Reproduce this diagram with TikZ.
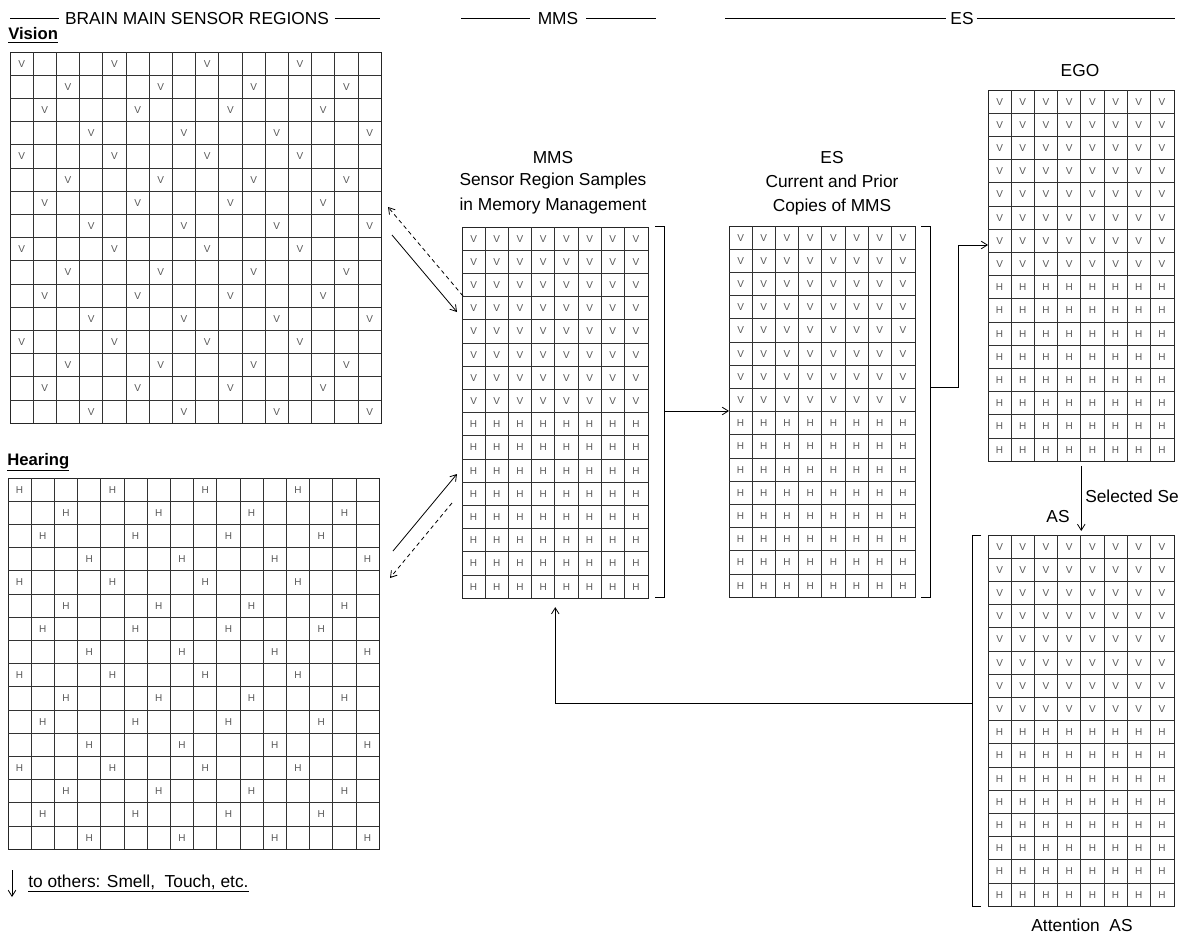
\documentclass[tikz,border=0pt]{standalone}
\usepackage{fontspec}
\setmainfont{Liberation Sans}
\usetikzlibrary{arrows.meta}

\begin{document}
\begin{tikzpicture}[
    x=0.75pt,
    y=-0.75pt,
    >={Straight Barb[length=1.6mm,width=2mm]},
    titletext/.style={font=\fontsize{13}{15}\selectfont, inner sep=0pt},
    heading/.style={font=\fontsize{12.5}{15}\selectfont\bfseries, inner sep=0pt},
    cell/.style={font=\fontsize{7.5}{9}\selectfont, text=black!65, inner sep=0pt},
    gridframe/.style={draw=black!85, line width=0.7pt, inner sep=0pt, anchor=north west},
    gridline/.style={draw=black!80, line width=0.7pt},
    rule/.style={line width=0.7pt},
    line/.style={->, line width=0.6pt},
    dashline/.style={->, line width=0.6pt, dash pattern=on 3pt off 2.5pt}
]
\useasboundingbox (0,0) rectangle (1190,935);

% headers
\node[titletext, anchor=base] (hdbrain) at (197,24) {BRAIN MAIN SENSOR REGIONS};
\node[titletext, anchor=base] (hdmms) at (558,24) {MMS};
\node[titletext, anchor=base] (hdes) at (962,24) {ES};
\draw[rule] (10,0 |- hdbrain.west) -- ([xshift=-4pt]hdbrain.west);
\draw[rule] ([xshift=4pt]hdbrain.east) -- (380,0 |- hdbrain.east);
\draw[rule] (461,0 |- hdmms.west) -- ([xshift=-6pt]hdmms.west);
\draw[rule] ([xshift=6pt]hdmms.east) -- (656,0 |- hdmms.east);
\draw[rule] (725,0 |- hdes.west) -- ([xshift=-3pt]hdes.west);
\draw[rule] ([xshift=2pt]hdes.east) -- (1175,0 |- hdes.east);

\node[heading, anchor=base west] (lbvision) at (8,40) {\underline{Vision}};
\node[heading, anchor=base west] (lbhearing) at (7,465) {\underline{Hearing}};

% sensor regions
\foreach \g/\gx/\gy/\ch in {vision/10/52/V, hearing/8/478/H} {
  \node[gridframe, minimum width=278.4pt, minimum height=278.4pt] (\g) at (\gx,\gy) {};
  \foreach \i in {1,...,15} {
    \draw[gridline] ({\gx+\i*23.2},\gy) -- ++(0,371.2);
    \draw[gridline] (\gx,{\gy+\i*23.2}) -- ++(371.2,0);
  }
  \foreach \r in {0,...,15} {
    \pgfmathtruncatemacro\off{mod(2*\r,4)+floor(mod(\r,4)/2)}
    \foreach \k in {0,...,3} {
      \pgfmathtruncatemacro\c{\off+4*\k}
      \node[cell] (\g-\r-\c) at ({\gx+(\c+0.5)*23.2},{\gy+(\r+0.5)*23.2}) {\ch};
    }
  }
}

% memory copies
\foreach \g/\gx/\gy in {mms/462/227, es/729/226, ego/988/90, as/988/535} {
  \node[gridframe, minimum width=139.2pt, minimum height=278.4pt] (\g) at (\gx,\gy) {};
  \foreach \i in {1,...,7}
    \draw[gridline] ({\gx+\i*23.2},\gy) -- ++(0,371.2);
  \foreach \i in {1,...,15}
    \draw[gridline] (\gx,{\gy+\i*23.2}) -- ++(185.6,0);
  \foreach \c in {0,...,7} {
    \foreach \r in {0,...,7}
      \node[cell] (\g-\r-\c) at ({\gx+(\c+0.5)*23.2},{\gy+(\r+0.5)*23.2}) {V};
    \foreach \r in {8,...,15}
      \node[cell] (\g-\r-\c) at ({\gx+(\c+0.5)*23.2},{\gy+(\r+0.5)*23.2}) {H};
  }
}

\node[titletext, anchor=base] (mmsname) at (553,163) {MMS};
\node[titletext, anchor=base] (mmsdesc) at (553,185) {Sensor Region Samples};
\node[titletext, anchor=base] (mmsdesc2) at (553,210) {in Memory Management};
\node[titletext, anchor=base] (esname) at (832,163) {ES};
\node[titletext, anchor=base] (esdesc) at (832,187) {Current and Prior};
\node[titletext, anchor=base] (esdesc2) at (832,211) {Copies of MMS};
\node[titletext, anchor=base] (egoname) at (1080,76) {EGO};
\node[titletext, anchor=base west] (selected) at (1085,502) {Selected Se};
\node[titletext, anchor=base] (asname) at (1058,522) {AS};
\node[titletext, anchor=base] (attention) at (1082,931) {Attention\ \ AS};

% brackets
\draw[rule] (655,226) -- (664,226) -- (664,597) -- (655,597);
\draw[rule] (921,226) -- (930,226) -- (930,597) -- (921,597);
\draw[rule] (981,535) -- (972,535) -- (972,906) -- (981,906);

\coordinate (visout) at (392,235);
\coordinate (mmsvin) at (457,312);
\coordinate (mmsvout) at (463,296);
\coordinate (visin) at (388,207);
\coordinate (hearout) at (393,551);
\coordinate (mmshin) at (457,474);
\coordinate (mmshout) at (452,503);
\coordinate (hearin) at (390,578);
\coordinate (mmsout) at (664,411);
\coordinate (esout) at (930,387);
\coordinate (egoin) at (988,245);
\coordinate (asout) at (972,703);
\coordinate (othtop) at (12,870);
\coordinate (othbot) at (12,897);

\draw[line] (visout) -- (mmsvin);
\draw[dashline] (mmsvout) -- (visin);
\draw[line] (hearout) -- (mmshin);
\draw[dashline] (mmshout) -- (hearin);
\draw[line] (mmsout) -- (es.west |- mmsout);
\draw[line] (esout) -- ++(28,0) |- (egoin);
\draw[line] ([yshift=-3pt]ego.south) -- ([yshift=3pt]as.north);
\draw[line] (asout) -| ([yshift=-6pt]mms.south);
\draw[line] (othtop) -- (othbot);

\node[titletext, anchor=base west] (others) at (28,887) {\underline{to others: Smell,\ \ Touch, etc.}};
\end{tikzpicture}
\end{document}
